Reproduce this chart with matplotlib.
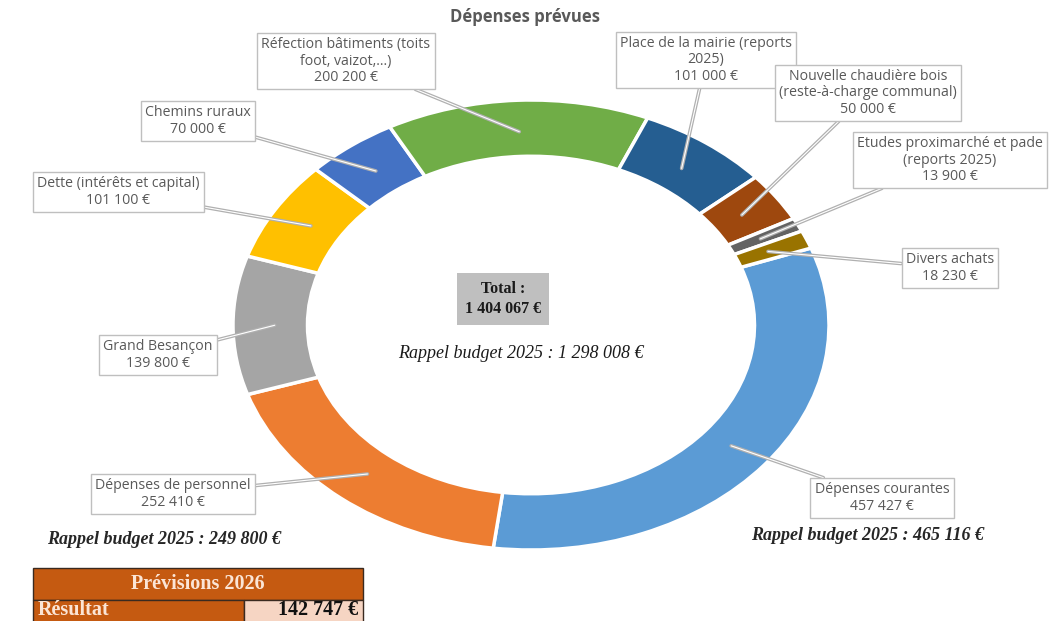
import numpy as np
import matplotlib
matplotlib.use("Agg")
import matplotlib.pyplot as plt
import matplotlib.patheffects as pe
from matplotlib.patches import Rectangle

# données (ordre Excel)
categories = ["Dépenses courantes", "Dépenses de personnel", "Grand Besançon",
              "Dette (intérêts et capital)", "Chemins ruraux",
              "Réfection bâtiments (toits\nfoot, vaizot,...)",
              "Place de la mairie (reports\n2025)",
              "Nouvelle chaudière bois\n(reste-à-charge communal)",
              "Etudes proximarché et pade\n(reports 2025)",
              "Divers achats"]
values = [457427, 252410, 139800, 101100, 70000, 200200, 101000, 50000, 13900, 18230]
colors = ["#5B9BD5", "#ED7D31", "#A5A5A5", "#FFC000", "#4472C4",
          "#70AD47", "#255E91", "#9E480E", "#636363", "#997300"]
total_txt = "Total :\n1 404 067 €"
rappel_total = "Rappel budget 2025 : 1 298 008 €"
rappel_perso = "Rappel budget 2025 : 249 800 €"
rappel_cour = "Rappel budget 2025 : 465 116 €"
table_head = "Prévisions 2026"
table_row = ("Résultat", "142 747 €")

# position des étiquettes (pixels, origine en haut)
label_pos = [(882, 498), (173, 494), (158, 355), (118, 192), (198, 121),
             (346, 61), (706, 60), (868, 93), (950, 160), (950, 268)]

W, H = 1050, 621
fig = plt.figure(figsize=(W / 100, H / 100), dpi=100)

# anneau (étiré horizontalement comme l'original)
ax = fig.add_axes([233 / W, 1 - 550 / H, 596 / W, 450 / H])
wedges, _ = ax.pie(values, colors=colors, startangle=20, counterclock=False,
                   radius=1, wedgeprops=dict(width=0.25, edgecolor="white", linewidth=2.5))
ax.set_aspect("auto")
ax.set_xlim(-1, 1)
ax.set_ylim(-1, 1)
ax.axis("off")

ov = fig.add_axes([0, 0, 1, 1])
ov.set_xlim(0, W)
ov.set_ylim(H, 0)
ov.axis("off")

lab_font = dict(family="Open Sans", fontsize=10.2, color="#595959")
for w, cat, v, pos in zip(wedges, categories, values, label_pos):
    mid = np.deg2rad((w.theta1 + w.theta2) / 2)
    r = 0.86
    txt = cat + "\n" + f"{v:,}".replace(",", " ") + " €"
    ax.annotate(txt, xy=(r * np.cos(mid), r * np.sin(mid)), xycoords="data",
                xytext=pos, textcoords=ov.transData, ha="center", va="center",
                linespacing=1.1, **lab_font,
                bbox=dict(boxstyle="square,pad=0.3", fc="white", ec="#BFBFBF", lw=1),
                arrowprops=dict(arrowstyle="-", color="white", lw=0.8, shrinkA=0, shrinkB=0,
                                path_effects=[pe.Stroke(linewidth=2.6, foreground="#B0B0B0"),
                                              pe.Normal()]))

fig.text(0.5, 1 - 17 / H, "Dépenses prévues", ha="center", va="center",
         family="Open Sans", fontsize=12, fontweight="bold", color="#595959")

ov.text(503, 299, total_txt, ha="center", va="center", family="Liberation Serif",
        fontsize=11.5, fontweight="bold", color="#1a1a1a", linespacing=1.3,
        bbox=dict(boxstyle="square,pad=0.5", fc="#BFBFBF", ec="none"))
ov.text(521, 353, rappel_total, ha="center", va="center", family="Liberation Serif",
        fontsize=13, style="italic", color="#1a1a1a")
ov.text(164, 540, rappel_perso, ha="center", va="center", family="Liberation Serif",
        fontsize=13, style="italic", fontweight="bold", color="#262626")
ov.text(868, 535, rappel_cour, ha="center", va="center", family="Liberation Serif",
        fontsize=13, style="italic", fontweight="bold", color="#262626")

# petit tableau
ov.add_patch(Rectangle((33, 568), 330, 32, fc="#C55A11", ec="#3a2a20", lw=1))
ov.add_patch(Rectangle((33, 600), 211, 30, fc="#C55A11", ec="#3a2a20", lw=1))
ov.add_patch(Rectangle((244, 600), 119, 30, fc="#F6D5C3", ec="#3a2a20", lw=1))
ov.text(198, 584, table_head, ha="center", va="center", family="Liberation Serif",
        fontsize=14.5, fontweight="bold", color="#FBE5D6")
ov.text(38, 610, table_row[0], ha="left", va="center", family="Liberation Serif",
        fontsize=14.5, fontweight="bold", color="#FBE5D6")
ov.text(358, 610, table_row[1], ha="right", va="center", family="Liberation Serif",
        fontsize=14.5, fontweight="bold", color="#111111")

fig.savefig("out.png", dpi=100, facecolor="white")
